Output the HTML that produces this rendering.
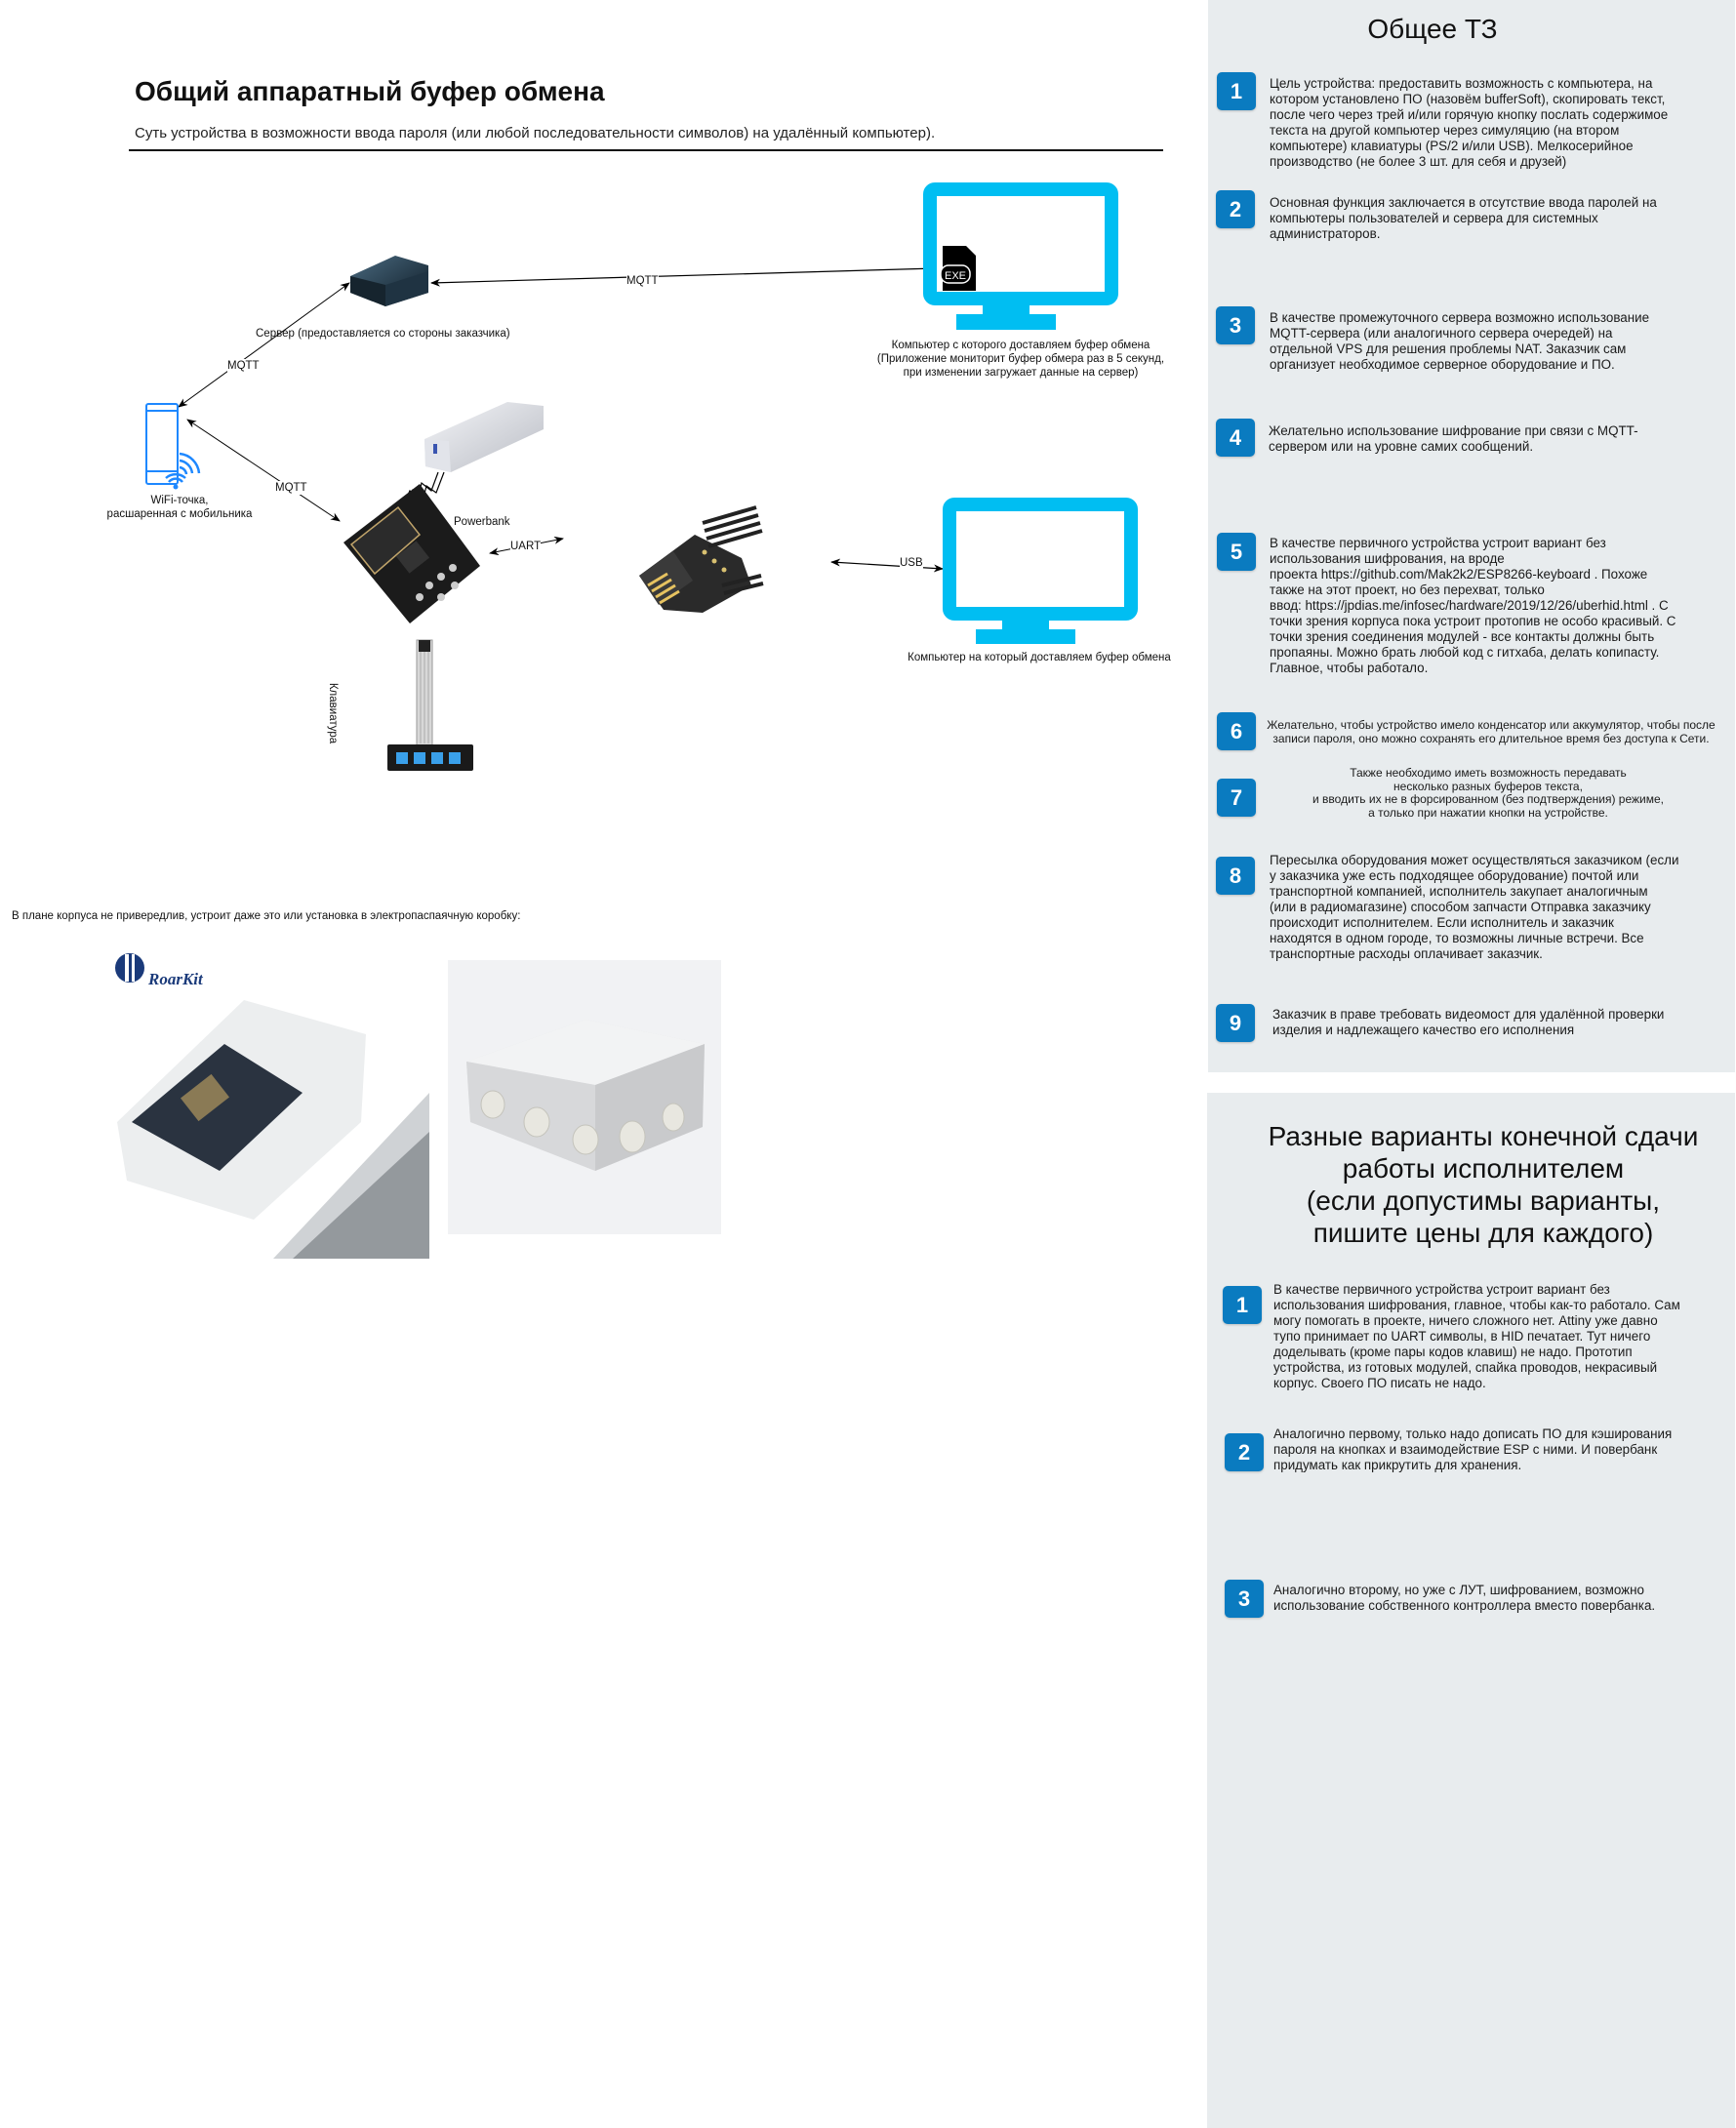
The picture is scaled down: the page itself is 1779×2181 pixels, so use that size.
<!DOCTYPE html>
<html><head><meta charset="utf-8">
<style>
*{margin:0;padding:0;box-sizing:border-box}
body{width:1779px;height:2181px;position:relative;background:#fff;font-family:"Liberation Sans","DejaVu Sans",sans-serif;color:#111;overflow:hidden}
.abs{position:absolute}
.panel{position:absolute;background:#e8ecee}
.badge{position:absolute;width:40px;height:39px;background:#0a7bc0;border-radius:5px;color:#fff;font-weight:bold;font-size:22px;text-align:center;line-height:39px;box-shadow:0 1px 2px rgba(0,0,0,.2)}
.t{position:absolute;font-size:13.4px;line-height:16px;white-space:nowrap;color:#1a1a1a}
.n{font-family:"Liberation Sans Narrow","Liberation Sans",sans-serif}
.lbl{position:absolute;font-size:11.5px;line-height:14px;white-space:nowrap;text-align:center;font-family:"Liberation Sans Narrow","Liberation Sans",sans-serif}
</style></head><body>

<!-- Right panel 1 -->
<div class="panel" style="left:1238px;top:0;width:540px;height:1099px"></div>
<div class="abs" style="left:1238px;top:14px;width:460px;text-align:center;font-size:28px">Общее ТЗ</div>

<div class="badge" style="left:1247px;top:74px">1</div>
<div class="t" style="left:1301px;top:78px">Цель устройства: предоставить возможность с компьютера, на<br>котором установлено ПО (назовём bufferSoft), скопировать текст,<br>после чего через трей и/или горячую кнопку послать содержимое<br>текста на другой компьютер через симуляцию (на втором<br>компьютере) клавиатуры (PS/2 и/или USB). Мелкосерийное<br>производство (не более 3 шт. для себя и друзей)</div>

<div class="badge" style="left:1246px;top:195px">2</div>
<div class="t" style="left:1301px;top:200px">Основная функция заключается в отсутствие ввода паролей на<br>компьютеры пользователей и сервера для системных<br>администраторов.</div>

<div class="badge" style="left:1246px;top:314px">3</div>
<div class="t" style="left:1301px;top:318px">В качестве промежуточного сервера возможно использование<br>MQTT-сервера (или аналогичного сервера очередей) на<br>отдельной VPS для решения проблемы NAT. Заказчик сам<br>организует необходимое серверное оборудование и ПО.</div>

<div class="badge" style="left:1246px;top:429px">4</div>
<div class="t" style="left:1300px;top:434px">Желательно использование шифрование при связи с MQTT-<br>сервером или на уровне самих сообщений.</div>

<div class="badge" style="left:1247px;top:546px">5</div>
<div class="t" style="left:1301px;top:549px">В качестве первичного устройства устроит вариант без<br>использования шифрования, на вроде<br>проекта https://github.com/Mak2k2/ESP8266-keyboard . Похоже<br>также на этот проект, но без перехват, только<br>ввод: https://jpdias.me/infosec/hardware/2019/12/26/uberhid.html . С<br>точки зрения корпуса пока устроит протопив не особо красивый. С<br>точки зрения соединения модулей - все контакты должны быть<br>пропаяны. Можно брать любой код с гитхаба, делать копипасту.<br>Главное, чтобы работало.</div>

<div class="badge" style="left:1247px;top:730px">6</div>
<div class="t n" style="left:1290px;top:737px;width:476px;text-align:center;font-size:12px;line-height:13.5px">Желательно, чтобы устройство имело конденсатор или аккумулятор, чтобы после<br>записи пароля, оно можно сохранять его длительное время без доступа к Сети.</div>

<div class="badge" style="left:1247px;top:798px">7</div>
<div class="t n" style="left:1290px;top:786px;width:470px;text-align:center;font-size:12px;line-height:13.5px">Также необходимо иметь возможность передавать<br>несколько разных буферов текста,<br>и вводить их не в форсированном (без подтверждения) режиме,<br>а только при нажатии кнопки на устройстве.</div>

<div class="badge" style="left:1246px;top:878px">8</div>
<div class="t" style="left:1301px;top:874px">Пересылка оборудования может осуществляться заказчиком (если<br>у заказчика уже есть подходящее оборудование) почтой или<br>транспортной компанией, исполнитель закупает аналогичным<br>(или в радиомагазине) способом запчасти Отправка заказчику<br>происходит исполнителем. Если исполнитель и заказчик<br>находятся в одном городе, то возможны личные встречи. Все<br>транспортные расходы оплачивает заказчик.</div>

<div class="badge" style="left:1246px;top:1029px">9</div>
<div class="t" style="left:1304px;top:1032px">Заказчик в праве требовать видеомост для удалённой проверки<br>изделия и надлежащего качество его исполнения</div>

<!-- Right panel 2 -->
<div class="panel" style="left:1237px;top:1120px;width:541px;height:1061px"></div>
<div class="abs" style="left:1280px;top:1148px;width:480px;text-align:center;font-size:28px;line-height:33px">Разные варианты конечной сдачи<br>работы исполнителем<br>(если допустимы варианты,<br>пишите цены для каждого)</div>

<div class="badge" style="left:1253px;top:1318px">1</div>
<div class="t" style="left:1305px;top:1314px">В качестве первичного устройства устроит вариант без<br>использования шифрования, главное, чтобы как-то работало. Сам<br>могу помогать в проекте, ничего сложного нет. Attiny уже давно<br>тупо принимает по UART символы, в HID печатает. Тут ничего<br>доделывать (кроме пары кодов клавиш) не надо. Прототип<br>устройства, из готовых модулей, спайка проводов, некрасивый<br>корпус. Своего ПО писать не надо.</div>

<div class="badge" style="left:1255px;top:1469px">2</div>
<div class="t" style="left:1305px;top:1462px">Аналогично первому, только надо дописать ПО для кэширования<br>пароля на кнопках и взаимодействие ESP с ними. И повербанк<br>придумать как прикрутить для хранения.</div>

<div class="badge" style="left:1255px;top:1619px">3</div>
<div class="t" style="left:1305px;top:1622px">Аналогично второму, но уже с ЛУТ, шифрованием, возможно<br>использование собственного контроллера вместо повербанка.</div>

<!-- Left header -->
<div class="abs" style="left:138px;top:78px;font-size:28px;font-weight:bold;white-space:nowrap">Общий аппаратный буфер обмена</div>
<div class="abs n" style="left:138px;top:128px;font-size:15px;white-space:nowrap;color:#222">Суть устройства в возможности ввода пароля (или любой последовательности символов) на удалённый компьютер).</div>
<div class="abs" style="left:132px;top:153px;width:1060px;height:2px;background:#111"></div>

<!-- Diagram -->
<svg class="abs" style="left:0;top:0" width="1230" height="1300" viewBox="0 0 1230 1300">
<defs>
<marker id="ar" markerWidth="10" markerHeight="8" refX="9" refY="4" orient="auto-start-reverse" markerUnits="userSpaceOnUse"><path d="M0,0 L10,4 L0,8 L3,4 Z" fill="#000"/></marker>
<linearGradient id="pb" x1="0" y1="0" x2="1" y2="1"><stop offset="0" stop-color="#f4f5f8"/><stop offset="1" stop-color="#b9bcc4"/></linearGradient>
<linearGradient id="sv" x1="0" y1="0" x2="1" y2="1"><stop offset="0" stop-color="#4a6a80"/><stop offset="1" stop-color="#0d1a24"/></linearGradient>
</defs>
<line x1="442" y1="290" x2="959" y2="275" stroke="#000" stroke-width="1.2" marker-start="url(#ar)" marker-end="url(#ar)"/>
<line x1="358" y1="290" x2="183" y2="417" stroke="#000" stroke-width="1" marker-start="url(#ar)" marker-end="url(#ar)"/>
<line x1="192" y1="430" x2="348" y2="534" stroke="#000" stroke-width="1" marker-start="url(#ar)" marker-end="url(#ar)"/>
<line x1="502" y1="567" x2="577" y2="552" stroke="#000" stroke-width="1" marker-start="url(#ar)" marker-end="url(#ar)"/>
<line x1="852" y1="576" x2="966" y2="583" stroke="#000" stroke-width="1.2" marker-start="url(#ar)" marker-end="url(#ar)"/>
<!-- server cube -->
<polygon points="359,283 405,262 439,272 439,300 395,314 359,300" fill="url(#sv)"/>
<polygon points="359,283 395,292 395,314 359,300" fill="#16242e"/>
<polygon points="395,292 439,278 439,300 395,314" fill="#1f3342"/>
<!-- monitor 1 -->
<rect x="953" y="194" width="186" height="112" rx="5" fill="#fff" stroke="#00bef2" stroke-width="14"/>
<rect x="1007" y="306" width="48" height="20" fill="#00bef2"/>
<rect x="980" y="322" width="102" height="16" fill="#00bef2"/>
<path d="M966,252 L990,252 L1000,262 L1000,298 L966,298 Z" fill="#000"/>
<rect x="964" y="272" width="30" height="18" rx="8" fill="#000" stroke="#fff" stroke-width="1.5"/>
<text x="968" y="286" fill="#fff" font-size="11" font-family="Liberation Sans Narrow, Liberation Sans, sans-serif">EXE</text>
<!-- monitor 2 -->
<rect x="973" y="517" width="186" height="112" rx="5" fill="#fff" stroke="#00bef2" stroke-width="14"/>
<rect x="1027" y="629" width="48" height="20" fill="#00bef2"/>
<rect x="1000" y="645" width="102" height="15" fill="#00bef2"/>
<!-- phone -->
<rect x="150" y="414" width="32" height="82" rx="2" fill="#fff" stroke="#1e88ff" stroke-width="2"/>
<line x1="150" y1="421" x2="182" y2="421" stroke="#1e88ff" stroke-width="2"/>
<line x1="150" y1="483" x2="182" y2="483" stroke="#1e88ff" stroke-width="2"/>
<path d="M184,465 a22,22 0 0 1 20,20 M184,472 a15,15 0 0 1 13,13 M184,479 a8,8 0 0 1 7,7" fill="none" stroke="#1e88ff" stroke-width="2.5"/>
<path d="M170,490 a15,15 0 0 1 20,0 M173,494 a9,9 0 0 1 14,0" fill="none" stroke="#1e88ff" stroke-width="2.5"/>
<circle cx="180" cy="499" r="2.5" fill="#1e88ff"/>
<!-- powerbank -->
<polygon points="435,450 520,412 557,416 557,440 462,484 436,478" fill="url(#pb)"/>
<polygon points="435,450 460,452 462,484 436,478" fill="#e2e4ea"/>
<rect x="444" y="455" width="4" height="10" fill="#3a55b0"/>
<path d="M455,484 L447,505 L437,498 L433,514 L423,502 L412,520 L420,503 L428,512 L432,495 L442,503 L449,484" fill="#fff" stroke="#000" stroke-width="1.2"/>
<!-- ESP module -->
<polygon points="352,556 430,496 492,580 420,639" fill="#1b1b1b"/>
<polygon points="360,558 408,520 430,548 384,588" fill="#2b2b2b" stroke="#bfa36a" stroke-width="1.5"/>
<g fill="#ccc"><circle cx="440" cy="600" r="4"/><circle cx="452" cy="591" r="4"/><circle cx="464" cy="582" r="4"/><circle cx="430" cy="612" r="4"/><circle cx="452" cy="612" r="4"/><circle cx="466" cy="600" r="4"/></g>
<rect x="410" y="560" width="26" height="22" fill="#333" transform="rotate(-38 423 571)"/>
<!-- digispark -->
<polygon points="655,590 712,548 760,572 770,600 720,628 680,625" fill="#2a2a2a"/>
<polygon points="655,590 690,565 710,595 675,620" fill="#3a3a3a"/>
<g stroke="#e6c260" stroke-width="3"><line x1="664" y1="600" x2="684" y2="588"/><line x1="668" y1="606" x2="688" y2="594"/><line x1="672" y1="612" x2="692" y2="600"/><line x1="676" y1="618" x2="696" y2="606"/></g>
<g stroke="#222" stroke-width="4"><line x1="720" y1="536" x2="775" y2="520"/><line x1="722" y1="544" x2="777" y2="528"/><line x1="724" y1="552" x2="779" y2="536"/><line x1="726" y1="560" x2="781" y2="544"/><line x1="740" y1="600" x2="780" y2="590"/><line x1="742" y1="608" x2="782" y2="598"/></g>
<g fill="#d8c070"><circle cx="722" cy="566" r="2.5"/><circle cx="732" cy="575" r="2.5"/><circle cx="742" cy="584" r="2.5"/></g>
<!-- keypad -->
<rect x="427" y="656" width="16" height="108" fill="#d8d8d8" stroke="#999" stroke-width="1"/>
<line x1="431" y1="666" x2="431" y2="762" stroke="#aaa"/><line x1="435" y1="666" x2="435" y2="762" stroke="#aaa"/><line x1="439" y1="666" x2="439" y2="762" stroke="#aaa"/>
<rect x="429" y="656" width="12" height="12" fill="#222"/>
<rect x="397" y="763" width="88" height="27" rx="2" fill="#1a1a1a"/>
<g fill="#3aa0ea"><rect x="406" y="771" width="12" height="12"/><rect x="424" y="771" width="12" height="12"/><rect x="442" y="771" width="12" height="12"/><rect x="460" y="771" width="12" height="12"/></g>
<!-- RoarKit image -->
<circle cx="133" cy="992" r="15" fill="#1a3a7a"/>
<rect x="128" y="978" width="4" height="28" fill="#fff"/><rect x="135" y="978" width="3" height="28" fill="#fff"/>
<text x="152" y="1009" font-size="17" font-weight="bold" font-style="italic" fill="#1a3a7a" font-family="Liberation Serif, serif">RoarKit</text>
<polygon points="120,1150 250,1025 375,1060 370,1150 260,1250 130,1210" fill="#eceeef"/>
<polygon points="135,1150 230,1070 310,1120 225,1200" fill="#2a3340"/>
<rect x="190" y="1110" width="40" height="30" fill="#8a7a55" transform="rotate(-38 210 1125)"/>
<polygon points="280,1290 440,1120 440,1290" fill="#cfd2d5"/>
<polygon points="300,1290 440,1160 440,1290" fill="#5a5f66" opacity=".5"/>
<!-- box image -->
<rect x="459" y="984" width="280" height="281" fill="#f1f2f4"/>
<polygon points="478,1088 600,1045 722,1070 720,1155 610,1200 482,1150" fill="#e3e4e6"/>
<polygon points="478,1088 600,1045 722,1070 610,1112" fill="#f2f3f4"/>
<polygon points="478,1088 610,1112 610,1200 482,1150" fill="#d7d8da"/>
<polygon points="610,1112 722,1070 720,1155 610,1200" fill="#c9cacc"/>
<g fill="#e8e7e0" stroke="#c4c3bb"><ellipse cx="505" cy="1132" rx="12" ry="14"/><ellipse cx="550" cy="1150" rx="13" ry="15"/><ellipse cx="600" cy="1168" rx="13" ry="15"/><ellipse cx="648" cy="1165" rx="13" ry="16"/><ellipse cx="690" cy="1145" rx="11" ry="14"/></g>
</svg>

<div class="lbl" style="left:642px;top:281px;background:#fff">MQTT</div>
<div class="lbl" style="left:262px;top:335px">Сервер (предоставляется со стороны заказчика)</div>
<div class="lbl" style="left:233px;top:368px;background:#fff">MQTT</div>
<div class="lbl" style="left:282px;top:493px;background:#fff">MQTT</div>
<div class="lbl" style="left:886px;top:347px;width:320px">Компьютер с которого доставляем буфер обмена<br>(Приложение мониторит буфер обмера раз в 5 секунд,<br>при изменении загружает данные на сервер)</div>
<div class="lbl" style="left:94px;top:506px;width:180px">WiFi-точка,<br>расшаренная с мобильника</div>
<div class="lbl" style="left:465px;top:528px">Powerbank</div>
<div class="lbl" style="left:523px;top:553px;background:#fff">UART</div>
<div class="lbl" style="left:922px;top:570px;background:#fff">USB</div>
<div class="lbl" style="left:915px;top:667px;width:300px">Компьютер на который доставляем буфер обмена</div>
<div class="lbl" style="left:310px;top:724px;transform:rotate(90deg);transform-origin:center">Клавиатура</div>
<div class="abs n" style="left:12px;top:933px;font-size:11.5px;white-space:nowrap">В плане корпуса не привередлив, устроит даже это или установка в электропаспаячную коробку:</div>

</body></html>
